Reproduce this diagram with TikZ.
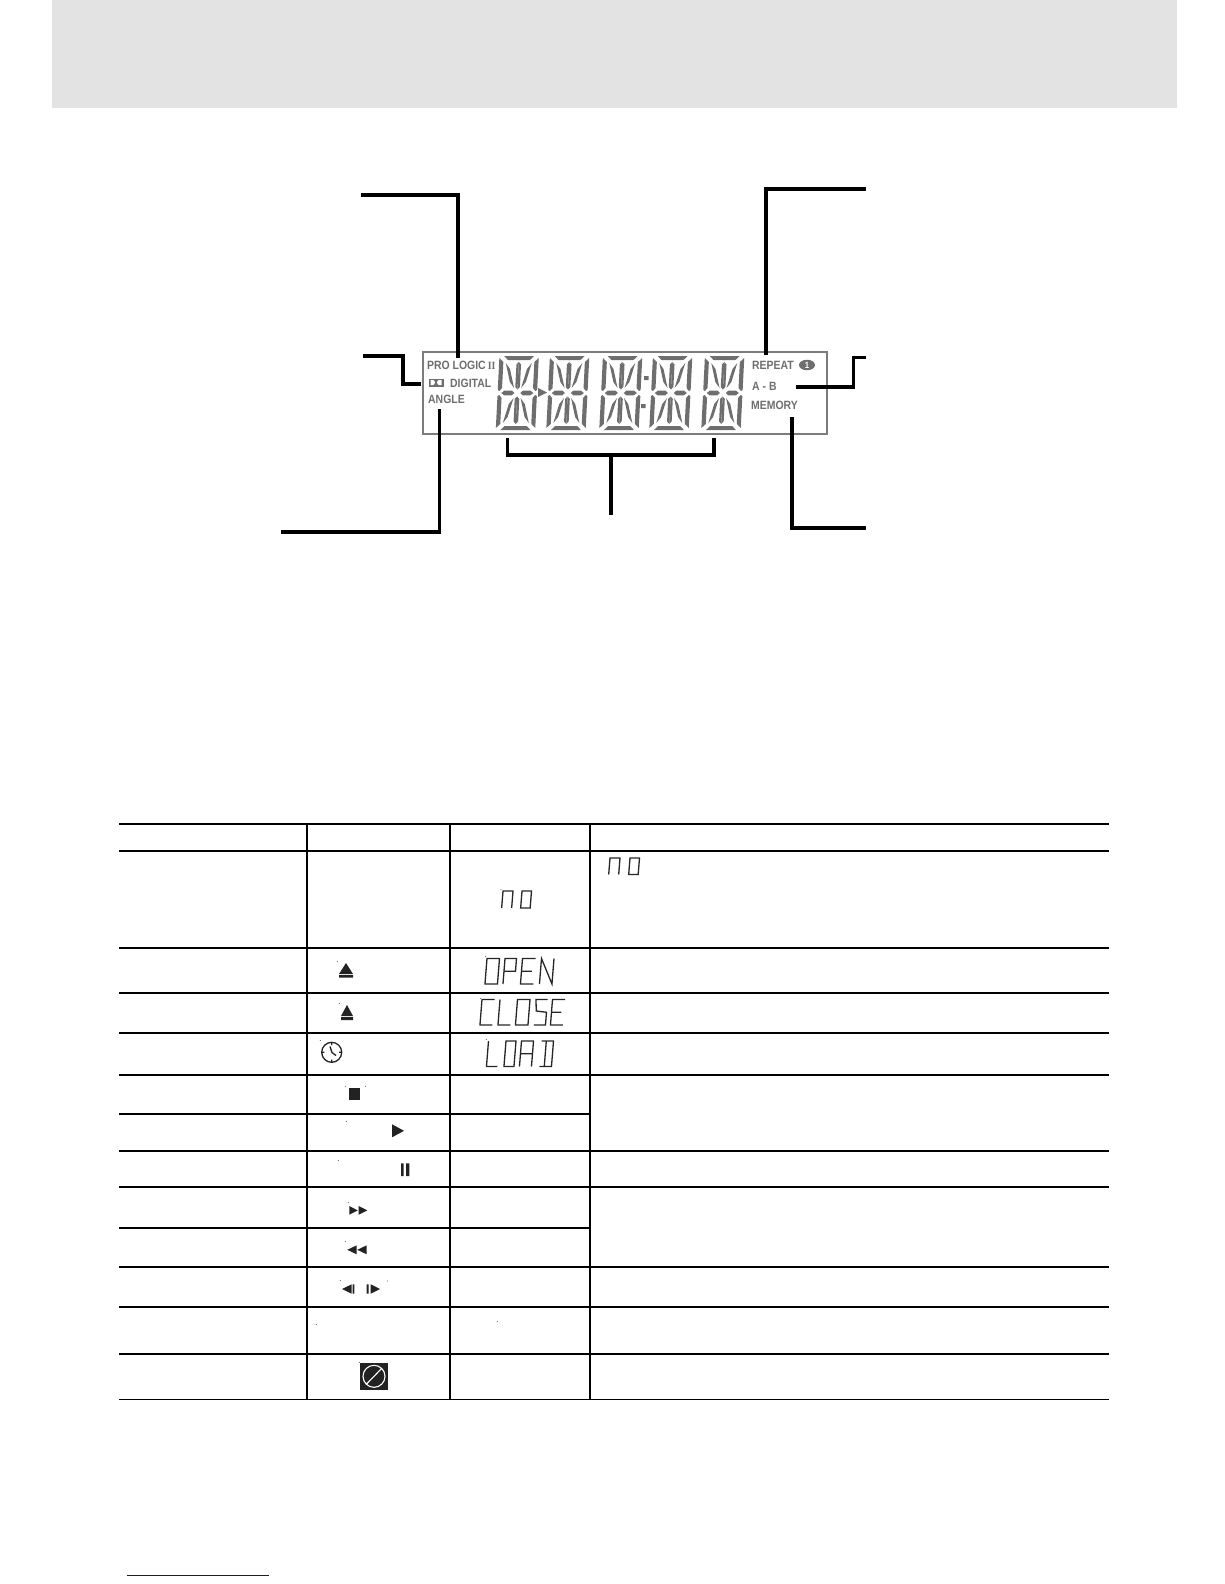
\documentclass[tikz,border=0pt]{standalone}
\usepackage{fontspec}
\usetikzlibrary{calc,shapes.geometric}
\newfontfamily\lcdfont[FakeStretch=.87]{Liberation Sans}
\newfontfamily\romanfont[FakeStretch=.9]{Liberation Serif}
\definecolor{bandgray}{HTML}{E3E3E3}
\definecolor{lcdgray}{HTML}{6E6E6E}
\definecolor{footblue}{HTML}{10108C}
\definecolor{iconblack}{HTML}{222222}
\newcommand{\lcdglyph}[5]{\draw[lcdthin, shift={(#1,#2)}, xslant=.08, xscale=#3, yscale=#4] #5;}
\tikzset{lcddigit/.pic={
    \foreach \sx in {-1,1} {
        \foreach \sy in {-1,1} {
            \begin{scope}[xscale=\sx, yscale=\sy]
                \fill[lcdgray] (-15,-37) -- (0.5,-37) -- (0.5,-33) -- (-11,-33) -- cycle;
                \fill[lcdgray] (-19.7,-35) -- (-15.5,-31) -- (-15.5,-5) -- (-18,-2) -- (-19.7,-3) -- cycle;
                \fill[lcdgray] (0,-31) -- (2.3,-28.5) -- (2.3,-6) -- (0,-3.5) -- cycle;
                \fill[lcdgray] (-13,-30) -- (-8.5,-24) -- (-3.5,-5) -- (-8,-11) -- cycle;
                \fill[lcdgray] (-16,0) -- (-13,-2.4) -- (-5.5,-2.4) -- (-3,0) -- cycle;
            \end{scope}
        }
    }
}}
\begin{document}
\begin{tikzpicture}[x=1pt, y=-1pt,
    leader/.style={line width=3.6pt, line cap=butt, line join=miter},
    tableline/.style={line width=1.6pt, black},
    lcdthin/.style={line width=1.3pt, black!85, line join=miter},
    lcdtext/.style={anchor=west, inner sep=0pt, text=lcdgray, font=\lcdfont\bfseries\fontsize{12}{12}\selectfont},
    icon/.style={fill=iconblack, draw=none}]
    \useasboundingbox (0,0) rectangle (1224,1584);
    % --- Header band ---
    \fill[bandgray] (51.5,0) rectangle (1176.5,108);

    % --- LCD panel ---
    \draw[line width=1.8pt, lcdgray!90] (423,352) rectangle (827,434);
    \foreach \dx in {517.3,567.8,620.8,670.8,722.8} {
        \pic[xslant=.05] at (\dx,393) {lcddigit};
    }
    \fill[lcdgray] (538,388) -- (547,392.5) -- (538,397) -- cycle;
    \fill[lcdgray] (644,376) rectangle (648.5,380) (641,404) rectangle (645.5,408);

    % Indicators of the panel
    \node[lcdtext] (prologic) at (427,365) {PRO LOGIC\,{\romanfont\fontsize{11}{11}\selectfont II}};
    \node[lcdtext] (digital) at (450,383) {DIGITAL};
    \node[lcdtext] (angle) at (428,399.5) {ANGLE};
    \node[lcdtext] (repeat) at (752,365) {REPEAT};
    \node[lcdtext] (ab) at (752,386) {A - B};
    \node[lcdtext] (memory) at (751,405) {MEMORY};
    \node[ellipse, fill=lcdgray, text=white, inner sep=0pt, minimum width=16pt, minimum height=10.5pt,
        font=\lcdfont\bfseries\fontsize{9}{9}\selectfont] (repeatone) at (807,365) {1};
    % Dolby mark
    \fill[lcdgray] (428.5,378.5) rectangle (443.5,386.5);
    \fill[white] (430.5,380) -- (433,380) .. controls (435.5,380) and (435.5,385) .. (433,385) -- (430.5,385) -- cycle
        (441.5,380) -- (439,380) .. controls (436.5,380) and (436.5,385) .. (439,385) -- (441.5,385) -- cycle;

    % --- Leaders ---
    \coordinate (proEnd) at (458,358);
    \coordinate (proFree) at (360.5,195);
    \coordinate (dolbyEnd) at (421,384);
    \coordinate (dolbyFree) at (363,356);
    \coordinate (angleEnd) at (439.5,409);
    \coordinate (angleFree) at (281,532);
    \coordinate (repeatEnd) at (766,355);
    \coordinate (repeatFree) at (865.5,189);
    \coordinate (abEnd) at (796,387);
    \coordinate (abFree) at (865.5,357.5);
    \coordinate (memoryEnd) at (792,417);
    \coordinate (memoryFree) at (865.5,528);
    \coordinate (digitsLeft) at (507.5,438);
    \coordinate (digitsRight) at (714,438);
    \coordinate (digitsFree) at (611,515);
    \draw[leader] (proEnd) |- (proFree);
    \draw[leader] (dolbyEnd) -- (403,384) |- (dolbyFree);
    \draw[leader] (angleEnd) |- (angleFree);
    \draw[leader] (repeatEnd) |- (repeatFree);
    \draw[leader] (abEnd) -- (853.5,387) |- (abFree);
    \draw[leader] (memoryEnd) |- (memoryFree);
    \draw[leader] (digitsLeft) -- (507.5,455) -- (714,455) -- (digitsRight);
    \draw[leader] (digitsFree) -- (611,455);

    % --- Table rules ---
    \foreach \ry in {824,850.7,947.7,992.7,1032.7,1075,1150.7,1187,1266.7,1306.7,1353.7,1399.5} {
        \draw[tableline] (119,\ry) -- (1109,\ry);
    }
    \foreach \ry in {1113.7,1227.7} {
        \draw[tableline] (119,\ry) -- (590,\ry);
    }
    \foreach \cx in {307,450,590} {
        \draw[tableline] (\cx,824) -- (\cx,1399.5);
    }

    % --- Display words ---
    % no
    \lcdglyph{503}{891}{10}{17}{(0,1) -- (0,0) -- (1,0) -- (1,1)}
    \lcdglyph{522}{891}{9.5}{17}{(0,0) rectangle (1,1)}
    \lcdglyph{610}{858}{10}{16.5}{(0,1) -- (0,0) -- (1,0) -- (1,1)}
    \lcdglyph{630}{858}{9.5}{16.5}{(0,0) rectangle (1,1)}
    % OPEN
    \lcdglyph{487}{958.5}{12.5}{25.5}{(0,0) rectangle (1,1)}
    \lcdglyph{505}{958.5}{11.5}{25.5}{(0,1) -- (0,0) -- (1,0) -- (1,.5) -- (0,.5)}
    \lcdglyph{522.5}{958.5}{13}{25.5}{(1,0) -- (0,0) -- (0,1) -- (1,1) (0,.5) -- (.8,.5)}
    \lcdglyph{541.5}{958.5}{12.5}{25.5}{(0,1) -- (0,0) -- (1,1) -- (1,0)}
    % CLOSE
    \lcdglyph{482}{999.5}{12.5}{25.5}{(1,0) -- (0,0) -- (0,1) -- (1,1)}
    \lcdglyph{500}{999.5}{12.5}{25.5}{(0,0) -- (0,1) -- (1,1)}
    \lcdglyph{517.5}{999.5}{12.5}{25.5}{(0,0) rectangle (1,1)}
    \lcdglyph{536}{999.5}{11.5}{25.5}{(1,0) -- (0,0) -- (.1,.45) -- (1,.5) -- (1,1) -- (0,1)}
    \lcdglyph{552.5}{999.5}{12.5}{25.5}{(1,0) -- (0,0) -- (0,1) -- (1,1) (0,.5) -- (.8,.5)}
    % LOAD
    \lcdglyph{488.5}{1041}{11}{25.5}{(0,0) -- (0,1) -- (1,1)}
    \lcdglyph{506}{1041}{10}{25.5}{(0,0) rectangle (1,1)}
    \lcdglyph{521.5}{1041}{12}{25.5}{(0,1) -- (0,0) -- (1,0) -- (1,1) (0,.5) -- (1,.5)}
    \lcdglyph{541.5}{1041}{12}{25.5}{(0,0) -- (1,0) -- (1,1) -- (0,1) (.4,0) -- (.4,1)}

    % --- Key symbols ---
    % Eject
    \fill[icon] (339,974) -- (346,963) -- (353,974) -- cycle (339,975) rectangle (353,977.5);
    \fill[icon] (341,1016) -- (347,1005) -- (353,1016) -- cycle (341,1017) rectangle (353,1020);
    % Clock
    \draw[line width=1.3pt, iconblack] (331.7,1052.3) circle (10);
    \draw[line width=1.3pt, iconblack] (331.7,1042.3) -- (331.7,1045) (331.7,1059.6) -- (331.7,1062.3)
        (321.7,1052.3) -- (324.4,1052.3) (339,1052.3) -- (341.7,1052.3)
        (330,1046.5) -- (332,1052.5) -- (336,1055.5);
    % Stop, play, pause
    \fill[icon] (349,1088.3) rectangle (360,1099.7);
    \fill[icon] (392,1124.3) -- (404,1130.8) -- (392,1137.3) -- cycle;
    \fill[icon] (401,1163.3) rectangle (403.7,1176) (406,1163.3) rectangle (409.3,1176);
    % Forward and reverse
    \fill[icon] (349.3,1206) -- (357.7,1210.4) -- (349.3,1214.7) -- cycle (358.7,1206) -- (367.3,1210.4) -- (358.7,1214.7) -- cycle;
    \fill[icon] (356.7,1245.3) -- (347.3,1249.8) -- (356.7,1254.3) -- cycle (366.7,1245.3) -- (357.3,1249.8) -- (366.7,1254.3) -- cycle;
    % Step
    \fill[icon] (351.7,1284.3) -- (342,1289) -- (351.7,1293.7) -- cycle (352.7,1284.3) rectangle (354.3,1293.7);
    \fill[icon] (366.7,1284.3) rectangle (368.7,1293.7) (370.7,1284.3) -- (380,1289) -- (370.7,1293.7) -- cycle;
    % Prohibited
    \fill[iconblack] (360,1363) rectangle (388,1389.7);
    \draw[white, line width=1.1pt] (374,1376.3) circle (11) (366.5,1384) -- (381.5,1368.6);

    % Specks
    \foreach \px/\py in {337.3/961.3,339.3/1003.3,320.3/1040.3,501/889.3,485.7/956.3,480.7/998.3,486.3/1039.3,
        345.3/1086.3,365.3/1086.3,346.3/1121.3,338.3/1160.3,348.3/1202.3,345.3/1241.3,340.3/1280.3,
        387.3/1281,316.3/1324.3,497.3/1321.3,359.3/1362.3} {
        \fill[black!80] (\px,\py) circle (.5);
    }

    % --- Footer rule ---
    \draw[line width=1.5pt, footblue] (127.3,1575.3) -- (269,1575.3);
\end{tikzpicture}
\end{document}
